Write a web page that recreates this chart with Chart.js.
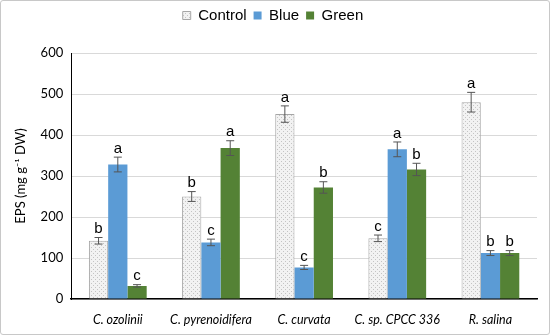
<!DOCTYPE html>
<html>
<head>
<meta charset="utf-8">
<script src="https://cdn.jsdelivr.net/npm/chart.js@4/dist/chart.umd.min.js"></script>
<style>
  body { margin: 0; background: #fff; }
  #wrap { position: absolute; left: 0; top: 0; width: 548px; height: 333px; border: 1px solid #c8c8c8; border-radius: 3px; }
  canvas { display: block; }
</style>
</head>
<body>
<div id="wrap"><canvas id="epsChart" width="548" height="333"></canvas></div>
<script>
const strains = ['C. ozolinii', 'C. pyrenoidifera', 'C. curvata', 'C. sp. CPCC 336', 'R. salina'];
const controlValues = [142, 250, 451, 148, 480];
const blueValues = [328, 138, 77, 365, 112];
const greenValues = [32, 368, 272, 316, 112];
const controlErr = [8, 12, 20, 8, 24];
const blueErr = [18, 8, 5, 18, 6];
const greenErr = [3, 18, 14, 15, 6];
const controlLetters = ['b', 'b', 'a', 'c', 'a'];
const blueLetters = ['a', 'c', 'c', 'a', 'b'];
const greenLetters = ['c', 'a', 'b', 'b', 'b'];

// dotted crosshatch fill for the control bars
function makePattern() {
  const c = document.createElement('canvas');
  c.width = 4; c.height = 4;
  const g = c.getContext('2d');
  g.fillStyle = '#f2f2f2';
  g.fillRect(0, 0, 4, 4);
  g.fillStyle = '#c4c4c4';
  g.fillRect(0, 0, 1, 1);
  g.fillRect(2, 2, 1, 1);
  return g.createPattern(c, 'repeat');
}

// extra gap under the legend
const legendGap = {
  id: 'legendGap',
  beforeInit(chart) {
    const fit = chart.legend.fit;
    chart.legend.fit = function () {
      fit.call(this);
      this.height += 20;
    };
  }
};

// error bars + significance letters
const errorBarPlugin = {
  id: 'errorBars',
  afterDatasetsDraw(chart) {
    const ctx = chart.ctx;
    const y = chart.scales.y;
    chart.data.datasets.forEach((ds, i) => {
      const meta = chart.getDatasetMeta(i);
      meta.data.forEach((bar, j) => {
        const v = ds.data[j];
        const e = ds.errors[j];
        const top = y.getPixelForValue(v + e);
        const bot = y.getPixelForValue(v - e);
        ctx.save();
        ctx.strokeStyle = '#555';
        ctx.lineWidth = 1;
        ctx.beginPath();
        ctx.moveTo(bar.x, top); ctx.lineTo(bar.x, bot);
        ctx.moveTo(bar.x - 4, top); ctx.lineTo(bar.x + 4, top);
        ctx.moveTo(bar.x - 4, bot); ctx.lineTo(bar.x + 4, bot);
        ctx.stroke();
        ctx.fillStyle = '#000';
        ctx.font = '15px "Liberation Sans", Arial, sans-serif';
        ctx.textAlign = 'center';
        ctx.textBaseline = 'bottom';
        ctx.fillText(ds.letters[j], bar.x, top - 1);
        ctx.restore();
      });
    });
  }
};

new Chart(document.getElementById('epsChart'), {
  type: 'bar',
  data: {
    labels: strains,
    datasets: [
      { label: 'Control', data: controlValues, errors: controlErr, letters: controlLetters,
        backgroundColor: makePattern(), borderColor: '#a6a6a6', borderWidth: 1 },
      { label: 'Blue', data: blueValues, errors: blueErr, letters: blueLetters,
        backgroundColor: '#5b9bd5', borderWidth: 0 },
      { label: 'Green', data: greenValues, errors: greenErr, letters: greenLetters,
        backgroundColor: '#548235', borderWidth: 0 },
    ],
  },
  options: {
    responsive: false,
    animation: false,
    layout: { padding: { left: 8, right: 12, top: 0, bottom: 2 } },
    datasets: { bar: { categoryPercentage: 0.62, barPercentage: 1 } },
    plugins: {
      legend: {
        position: 'top',
        labels: { boxWidth: 8, boxHeight: 8, padding: 7, color: '#000',
          font: { family: '"Liberation Sans", Arial, sans-serif', size: 15 } },
      },
      tooltip: { enabled: false },
    },
    scales: {
      x: {
        grid: { display: false },
        border: { color: '#000', width: 1.5 },
        ticks: { color: '#000', maxRotation: 0, autoSkip: false, padding: 5,
          font: { family: 'Lato, sans-serif', style: 'italic', size: 12.5 } },
      },
      y: {
        min: 0, max: 600,
        ticks: { stepSize: 100, color: '#000', padding: 8, font: { family: 'Lato, sans-serif', size: 13 } },
        grid: { color: '#d9d9d9', drawTicks: false },
        border: { color: '#000', width: 1 },
        title: { display: true, text: 'EPS (mg g\u207B\u00B9 DW)', color: '#000',
          font: { family: 'Lato, sans-serif', size: 13 } },
      },
    },
  },
  plugins: [errorBarPlugin, legendGap],
});
</script>
</body>
</html>
